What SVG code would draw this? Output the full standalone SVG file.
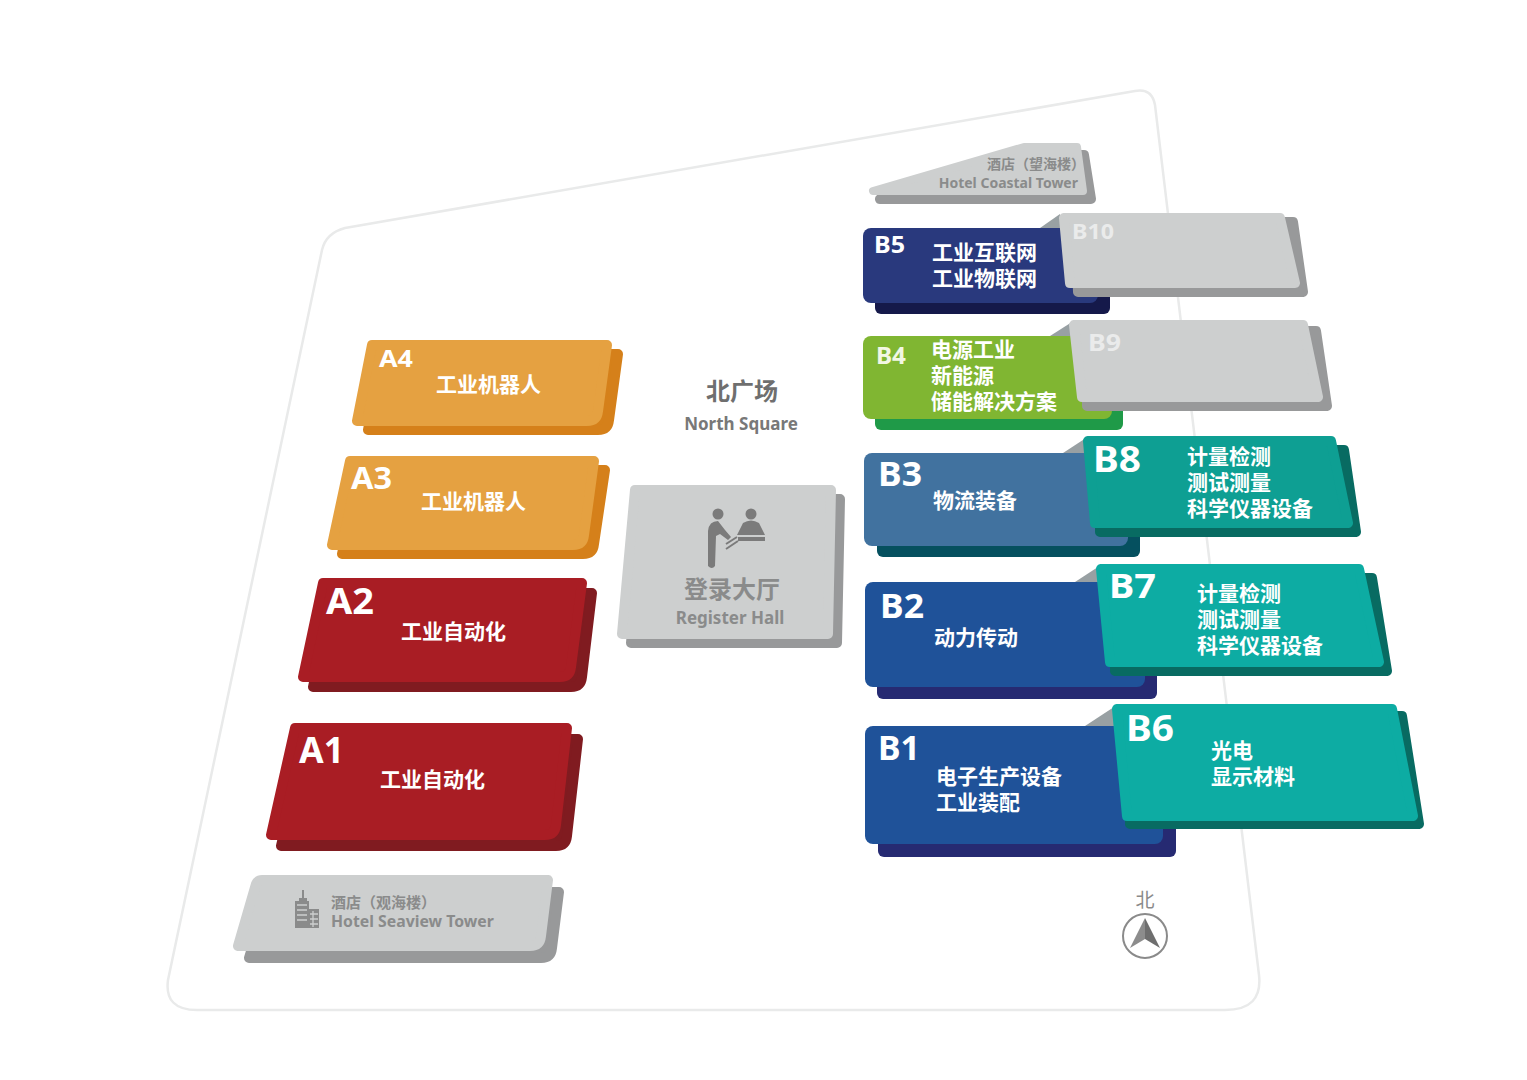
<svg xmlns="http://www.w3.org/2000/svg" width="1527" height="1080" viewBox="0 0 1527 1080">
<style>
text{font-family:"Noto Sans","Noto Sans CJK SC",sans-serif;font-weight:700}
.cn{font-family:"Noto Sans CJK SC",sans-serif;font-size:21px;fill:#fff}
.w{fill:#fff}
.r{stroke-width:10;stroke-linejoin:round}
.o{fill:#e5a141;stroke:#e5a141}.os{fill:#d5801a;stroke:#d5801a}
.d{fill:#a91d24;stroke:#a91d24}.ds{fill:#801b20;stroke:#801b20}
.g{fill:#cdcfcf;stroke:#cdcfcf}.gs{fill:#98999a;stroke:#98999a}
.t{fill:#0e9f93;stroke:#0e9f93}.t2{fill:#0daca3;stroke:#0daca3}.ts{fill:#086b62;stroke:#086b62}
.gt{fill:#8a8b8b}
.fold{fill:#98a0a3}
</style>
<rect width="1527" height="1080" fill="#fff"/>
<path id="site" d="M345,228 L1135,91 Q1152,88 1155,105 L1259,975 Q1263,1010 1225,1010 L197,1010 Q164,1010 168,980 L322,250 Q326,233 345,228Z" fill="#fff" stroke="#e9eaea" stroke-width="2.5"/>

<g id="A4">
<path class="r os" d="M382,354H618L609,420Q608,430 598,430H368Z"/>
<path class="r o" d="M372,345H607L598,411Q597,421 587,421H357Z"/>
<text x="379" y="367" font-size="24" class="w" textLength="34" lengthAdjust="spacingAndGlyphs">A4</text>
<text x="436" y="392" class="cn">工业机器人</text>
</g>
<g id="A3">
<path class="r os" d="M360,470H605L594,544Q593,554 583,554H342Z"/>
<path class="r o" d="M350,461H594L584,535Q583,545 573,545H332Z"/>
<text x="351" y="489" font-size="30" class="w" textLength="41" lengthAdjust="spacingAndGlyphs">A3</text>
<text x="421" y="509" class="cn">工业机器人</text>
</g>
<g id="A2">
<path class="r ds" d="M333,593H592L582,677Q581,687 571,687H313Z"/>
<path class="r d" d="M323,583H582L571,667Q570,677 560,677H303Z"/>
<text x="326" y="614" font-size="36" class="w" textLength="48" lengthAdjust="spacingAndGlyphs">A2</text>
<text x="401" y="639" class="cn">工业自动化</text>
</g>
<g id="A1">
<path class="r ds" d="M306,739H578L567,836Q566,846 556,846H281Z"/>
<path class="r d" d="M295,728H567L556,825Q555,835 545,835H271Z"/>
<text x="299" y="763" font-size="36" class="w" textLength="45" lengthAdjust="spacingAndGlyphs">A1</text>
<text x="380" y="787" class="cn">工业自动化</text>
</g>
<g id="hotel-seaview">
<path class="r gs" d="M269,892H559L552,948Q551,958 541,958H249Z"/>
<path class="r g" d="M262,880Q258,880 256,884L238,946H530Q540,946 541,936L548,880Z"/>
<path class="gt" d="M302,890h2v8h-2z M299,898h8v3h2v8h10v19h-24v-27h4z"/>
<path d="M297,905h10M297,910h10M297,915h10M297,920h10M310,914h8M310,919h8M310,924h8M313,911v16" stroke="#cdcfcf" stroke-width="1.3" fill="none"/>
<text x="331" y="908" font-size="15" class="gt" style="font-family:'Noto Sans CJK SC',sans-serif">酒店（观海楼）</text>
<text x="331" y="927" font-size="15.8" class="gt">Hotel Seaview Tower</text>
</g>
<g id="north-square">
<text x="742" y="400" font-size="24" text-anchor="middle" style="font-family:'Noto Sans CJK SC',sans-serif" fill="#6f6f6f">北广场</text>
<text x="741" y="430" font-size="17" text-anchor="middle" fill="#787878">North Square</text>
</g>
<g id="register-hall">
<polygon class="r gs" points="644,499 840,499 837,643 631,643"/>
<polygon class="r g" points="635,490 831,490 828,634 622,634"/>
<circle cx="718" cy="514" r="5.5" fill="#7b7b7b"/><circle cx="751" cy="514" r="5.5" fill="#7b7b7b"/>
<path fill="#7b7b7b" d="M708,531Q709,521 718,521L725,530L731,537L728,540L720,534L716,536L715,566Q712,570 708,566Z"/>
<path fill="#7b7b7b" d="M737,535L743,523Q751,518 759,523L765,535ZM738,537H765V541H738Z"/>
<path d="M726,544L737,537M726,549L738,541" stroke="#7b7b7b" stroke-width="2" fill="none"/>
<text x="732" y="598" font-size="24" text-anchor="middle" style="font-family:'Noto Sans CJK SC',sans-serif" class="gt">登录大厅</text>
<text x="730" y="624" font-size="17" text-anchor="middle" class="gt">Register Hall</text>
</g>

<g id="hotel-coastal">
<polygon class="r gs" points="880,199 1091,199 1084,155 1030,155"/>
<polygon class="r g" points="873,191 1083,191 1077,147 1024,147" style="stroke-width:8"/>
<text x="1085" y="169" font-size="14" text-anchor="end" class="gt" style="font-family:'Noto Sans CJK SC',sans-serif">酒店（望海楼）</text>
<text x="1078" y="188" font-size="14" text-anchor="end" class="gt">Hotel Coastal Tower</text>
</g>

<g id="B5">
<rect x="875" y="280" width="235" height="34" rx="6" fill="#15194a"/>
<rect x="863" y="228" width="235" height="75" rx="8" fill="#29397d"/>
<text x="874" y="253" font-size="24" class="w" textLength="31" lengthAdjust="spacingAndGlyphs">B5</text>
<text x="932" y="260" class="cn">工业互联网</text>
<text x="932" y="286" class="cn">工业物联网</text>
</g>
<g id="B10">
<polygon class="fold" points="1040,228 1060,214 1060,228"/>
<polygon class="r gs" points="1076,222 1293,222 1303,292 1078,292"/>
<polygon class="r g" points="1064,218 1280,218 1295,283 1070,283"/>
<text x="1072" y="239" font-size="22" fill="#eaebeb" textLength="42" lengthAdjust="spacingAndGlyphs">B10</text>
</g>
<g id="B4">
<rect x="875" y="395" width="248" height="35" rx="6" fill="#1f9a48"/>
<rect x="863" y="336" width="249" height="83" rx="8" fill="#80b632"/>
<text x="876" y="364" font-size="24" fill="#f2f7e4" textLength="30" lengthAdjust="spacingAndGlyphs">B4</text>
<text x="931" y="357" class="cn">电源工业</text>
<text x="931" y="383" class="cn">新能源</text>
<text x="931" y="409" class="cn">储能解决方案</text>
</g>
<g id="B9">
<polygon class="fold" points="1050,336 1072,322 1072,336"/>
<polygon class="r gs" points="1087,331 1316,331 1327,406 1087,406"/>
<polygon class="r g" points="1074,325 1303,325 1318,397 1082,397"/>
<text x="1088" y="351" font-size="24" fill="#eaebeb" textLength="33" lengthAdjust="spacingAndGlyphs">B9</text>
</g>
<g id="B3">
<rect x="877" y="520" width="263" height="37" rx="6" fill="#05505f"/>
<rect x="864" y="453" width="264" height="93" rx="8" fill="#41729f"/>
<text x="878" y="486" font-size="34" class="w" textLength="44" lengthAdjust="spacingAndGlyphs">B3</text>
<text x="933" y="508" class="cn">物流装备</text>
</g>
<g id="B8">
<polygon class="fold" points="1063,453 1086,438 1086,453"/>
<polygon class="r ts" points="1100,450 1344,450 1356,532 1100,532"/>
<polygon class="r t" points="1088,441 1331,441 1348,523 1095,523"/>
<text x="1093" y="472" font-size="35" class="w" textLength="48" lengthAdjust="spacingAndGlyphs">B8</text>
<text x="1187" y="464" class="cn">计量检测</text>
<text x="1187" y="490" class="cn">测试测量</text>
<text x="1187" y="516" class="cn">科学仪器设备</text>
</g>
<g id="B2">
<rect x="877" y="660" width="280" height="39" rx="6" fill="#262a72"/>
<rect x="865" y="582" width="280" height="105" rx="8" fill="#1f5299"/>
<text x="880" y="618" font-size="34" class="w" textLength="44" lengthAdjust="spacingAndGlyphs">B2</text>
<text x="934" y="645" class="cn">动力传动</text>
</g>
<g id="B7">
<polygon class="fold" points="1075,582 1098,567 1098,582"/>
<polygon class="r ts" points="1115,578 1372,578 1387,671 1115,671"/>
<polygon class="r t2" points="1101,569 1359,569 1379,662 1110,662"/>
<text x="1109" y="598" font-size="34" class="w" textLength="47" lengthAdjust="spacingAndGlyphs">B7</text>
<text x="1197" y="601" class="cn">计量检测</text>
<text x="1197" y="627" class="cn">测试测量</text>
<text x="1197" y="653" class="cn">科学仪器设备</text>
</g>
<g id="B1">
<rect x="878" y="820" width="298" height="37" rx="6" fill="#262a72"/>
<rect x="865" y="726" width="298" height="118" rx="8" fill="#1f5299"/>
<text x="878" y="760" font-size="34" class="w" textLength="42" lengthAdjust="spacingAndGlyphs">B1</text>
<text x="936" y="784" class="cn">电子生产设备</text>
<text x="936" y="810" class="cn">工业装配</text>
</g>
<g id="B6">
<polygon class="fold" points="1085,726 1114,707 1114,726"/>
<polygon class="r ts" points="1130,716 1402,716 1419,824 1130,824"/>
<polygon class="r t2" points="1117,709 1392,709 1413,816 1127,816"/>
<text x="1126" y="741" font-size="36" class="w" textLength="48" lengthAdjust="spacingAndGlyphs">B6</text>
<text x="1211" y="758" class="cn">光电</text>
<text x="1211" y="784" class="cn">显示材料</text>
</g>
<g id="north">
<text x="1145" y="907" font-size="19" text-anchor="middle" fill="#8a8a8a" style="font-family:'Noto Sans CJK SC',sans-serif;font-weight:400">北</text>
<circle cx="1145" cy="936" r="22" fill="#fff" stroke="#8a8a8a" stroke-width="2"/>
<polygon points="1145,918 1130,948 1145,939" fill="#8c8c8c"/>
<polygon points="1145,918 1160,948 1145,939" fill="#6e6e6e"/>
</g>
</svg>
